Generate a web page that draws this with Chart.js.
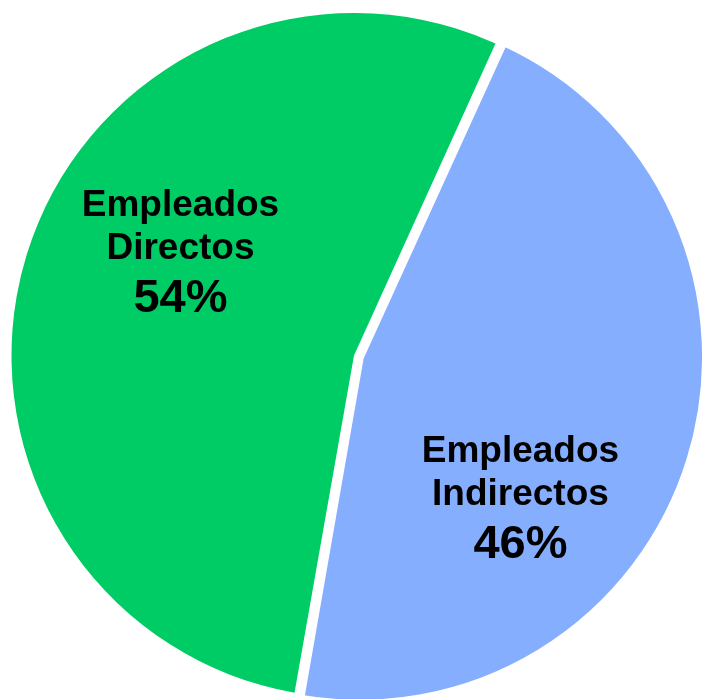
<!DOCTYPE html>
<html>
<head>
<meta charset="utf-8">
<script src="https://cdn.jsdelivr.net/npm/chart.js@4/dist/chart.umd.min.js"></script>
<style>
  body { margin: 0; background: #fff; }
  canvas { display: block; }
</style>
</head>
<body>
<canvas id="pie-chart" width="702" height="699"></canvas>
<script>
// Chart data
var categories = ['Empleados Directos', 'Empleados Indirectos'];
var shares = [54, 46];
var sliceColors = ['#00CC66', '#86AEFF'];
var labelLines = [['Empleados', 'Directos'], ['Empleados', 'Indirectos']];
// where each label sits, as a fraction of the radius from the pie centre
var labelAnchors = [[-0.5066, -0.2818], [0.486, 0.4365]];

// draws the two text labels inside the slices
var sliceLabels = {
  id: 'sliceLabels',
  afterDatasetsDraw: function(chart) {
    var ctx = chart.ctx;
    var arcs = chart.getDatasetMeta(0).data;
    ctx.save();
    ctx.fillStyle = '#000';
    ctx.textAlign = 'center';
    ctx.textBaseline = 'alphabetic';
    arcs.forEach(function(arc, i) {
      var r = arc.outerRadius;
      var x = arc.x + labelAnchors[i][0] * r;
      var y = arc.y + labelAnchors[i][1] * r;
      ctx.font = 'bold 37px "Liberation Sans", Arial, sans-serif';
      ctx.fillText(labelLines[i][0], x, y - 43);
      ctx.fillText(labelLines[i][1], x, y);
      ctx.font = 'bold 47px "Liberation Sans", Arial, sans-serif';
      ctx.fillText(shares[i] + '%', x, y + 53);
    });
    ctx.restore();
  }
};

var ctx = document.getElementById('pie-chart').getContext('2d');
var myChart = new Chart(ctx, {
  type: 'pie',
  data: {
    labels: categories,
    datasets: [{
      data: shares,
      backgroundColor: sliceColors,
      // pulled-out slice: the white edge trims the radius growth that offset adds
      offset: [0, 23],
      borderWidth: [0, 8.6],
      borderColor: '#fff',
      borderAlign: 'center'
    }]
  },
  options: {
    responsive: false,
    animation: false,
    rotation: 190,
    radius: 342.5,
    layout: {
      padding: { left: 6, right: 0, top: 12, bottom: 0 }
    },
    plugins: {
      legend: { display: false },
      tooltip: { enabled: false }
    }
  },
  plugins: [sliceLabels]
});
</script>
</body>
</html>
